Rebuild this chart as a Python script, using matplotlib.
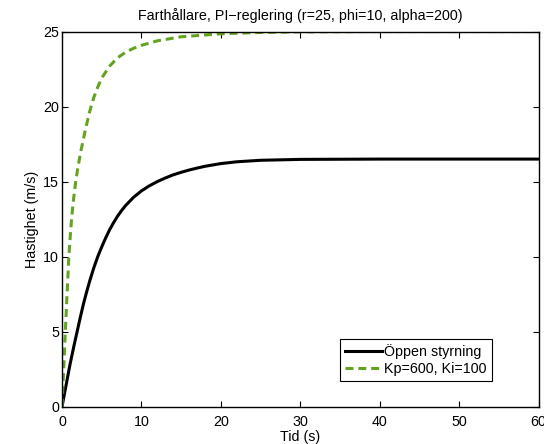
import matplotlib
matplotlib.use("Agg")
import matplotlib.pyplot as plt

plt.rcParams['font.family'] = ['Liberation Sans', 'DejaVu Sans']

# öppen styrning
t_open = [0, 0.5, 1.0, 1.5, 1.9, 2.3, 2.7, 3.1, 3.5, 4.0, 4.5, 5.0, 5.5, 6.0, 6.5, 7.0,
          7.5, 8.0, 9.0, 10, 11, 12, 13, 14, 15, 16, 17, 18, 20, 22, 25, 30, 40, 60]
v_open = [0, 1.4, 2.8, 4.05, 5.0, 5.95, 6.85, 7.65, 8.4, 9.25, 10.0, 10.65, 11.25, 11.8,
          12.27, 12.7, 13.07, 13.4, 13.95, 14.38, 14.72, 15.0, 15.24, 15.45, 15.62, 15.77,
          15.9, 16.02, 16.2, 16.32, 16.42, 16.48, 16.5, 16.5]

# PI-reglering Kp=600, Ki=100
t_pi = [0, 0.2, 0.4, 0.6, 0.85, 1.0, 1.2, 1.4, 1.7, 2.0, 2.4, 3.0, 3.5, 4, 4.5, 5, 6, 7,
        8, 9, 10, 12, 15, 20, 25, 30, 40, 60]
v_pi = [0, 2.4, 4.8, 7.1, 9.9, 11.1, 12.5, 13.6, 14.9, 15.95, 17.1, 18.6, 19.7, 20.6,
        21.3, 21.9, 22.7, 23.25, 23.62, 23.88, 24.08, 24.38, 24.65, 24.85, 24.94, 24.98,
        25.0, 25.0]

fs = 10.3

fig = plt.figure(figsize=(5.44, 4.44), dpi=100)
ax = fig.add_axes([0.114, 0.084, 0.876, 0.845])

ax.plot(t_open, v_open, color='black', lw=2.2, label='Öppen styrning')
ax.plot(t_pi, v_pi, color='#64a31f', lw=2.2, dashes=(2.6, 1.6), label='Kp=600, Ki=100')

ax.set_xlim(0, 60)
ax.set_ylim(0, 25)
ax.set_xticks(range(0, 61, 10))
ax.set_yticks(range(0, 26, 5))
ax.tick_params(direction='in', top=True, right=True, length=4, labelsize=fs)
ax.tick_params(axis='x', pad=6)
ax.tick_params(axis='y', pad=2)
for s in ax.spines.values():
    s.set_linewidth(1.0)

ax.set_title('Farthållare, PI\u2212reglering (r=25, phi=10, alpha=200)', fontsize=fs, pad=8)
ax.set_xlabel('Tid (s)', fontsize=fs, labelpad=0.5)
ax.set_ylabel('Hastighet (m/s)', fontsize=fs, labelpad=3)

leg = ax.legend(loc='lower right', bbox_to_anchor=(0.902, 0.068), fontsize=fs,
                fancybox=False, framealpha=1, edgecolor='black', handlelength=2.6,
                handletextpad=0.15, borderpad=0.35, labelspacing=0.25, borderaxespad=0)
leg.get_frame().set_linewidth(0.8)

fig.savefig('out.png', dpi=100)
